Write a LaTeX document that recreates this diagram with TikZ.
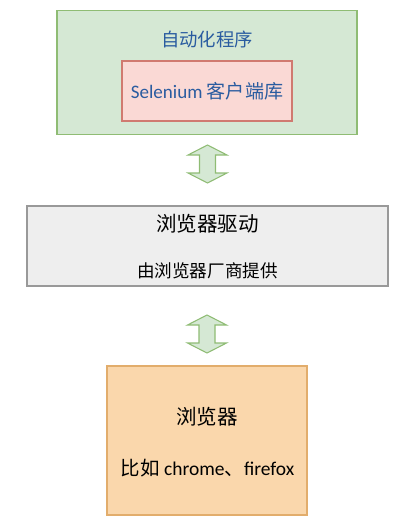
\documentclass[tikz,border=0pt]{standalone}
\usepackage{fontspec}
\setmainfont{Carlito}
\newfontfamily\cjk{Noto Sans CJK SC}
\definecolor{gfill}{HTML}{D5E8D4}
\definecolor{gline}{HTML}{8FBC74}
\definecolor{pfill}{HTML}{FAD9D5}
\definecolor{pline}{HTML}{D07A70}
\definecolor{grfill}{HTML}{EEEEEE}
\definecolor{grline}{HTML}{999999}
\definecolor{ofill}{HTML}{FAD7AC}
\definecolor{oline}{HTML}{E2AD6C}
\definecolor{tblue}{HTML}{2A5CA0}
\begin{document}
\begin{tikzpicture}[x=0.75pt,y=-0.75pt,
  box/.style={draw,line width=0.8pt,inner sep=0pt},
  lbl/.style={inner sep=0pt,anchor=center},
  dblarrow/.style={fill=gfill,draw=gline,line width=0.8pt,line join=miter}]
\useasboundingbox (0,0) rectangle (403,524);
% green box
\node[box,fill=gfill,draw=gline,minimum width=300*0.75pt,minimum height=124*0.75pt] (app) at (207,72.5) {};
\node[lbl,text=tblue,font=\cjk\fontsize{13.8pt}{16pt}\selectfont] (apptitle) at (207,39) {自动化程序};
\node[box,fill=pfill,draw=pline,minimum width=170*0.75pt,minimum height=60*0.75pt] (sel) at (207,91) {};
\node[lbl,text=tblue,font=\fontsize{14.3pt}{16pt}\selectfont] (seltext) at (207,91) {Selenium {\cjk 客户端库}};
% arrow 1
\coordinate (a1) at (207.5,145);
\coordinate (b1) at (207.5,183);
\draw[dblarrow] (a1) -- ++(19.5,10) -- ++(-11.5,0) -- ++(0,18) -- ++(11.5,0) -- (b1) -- ++(-19.5,-10) -- ++(11.5,0) -- ++(0,-18) -- ++(-11.5,0) -- cycle;
% gray box
\node[box,fill=grfill,draw=grline,minimum width=361*0.75pt,minimum height=80*0.75pt] (drv) at (207.5,246) {};
\node[lbl,font=\cjk\fontsize{15.4pt}{18pt}\selectfont] (drvtitle) at (207.5,224) {浏览器驱动};
\node[lbl,font=\cjk\fontsize{13.2pt}{16pt}\selectfont] (drvsub) at (207.5,271) {由浏览器厂商提供};
% arrow 2
\coordinate (a2) at (207,315);
\coordinate (b2) at (207,353);
\draw[dblarrow] (a2) -- ++(19.5,10) -- ++(-11.5,0) -- ++(0,18) -- ++(11.5,0) -- (b2) -- ++(-19.5,-10) -- ++(11.5,0) -- ++(0,-18) -- ++(-11.5,0) -- cycle;
% orange box
\node[box,fill=ofill,draw=oline,minimum width=200*0.75pt,minimum height=149*0.75pt] (br) at (207,440.5) {};
\node[lbl,font=\cjk\fontsize{15.4pt}{18pt}\selectfont] (brtitle) at (207,417) {浏览器};
\node[lbl,font=\fontsize{14.6pt}{16pt}\selectfont] (brsub) at (207.5,468) {{\cjk 比如} chrome{\cjk 、}firefox};
\end{tikzpicture}
\end{document}
